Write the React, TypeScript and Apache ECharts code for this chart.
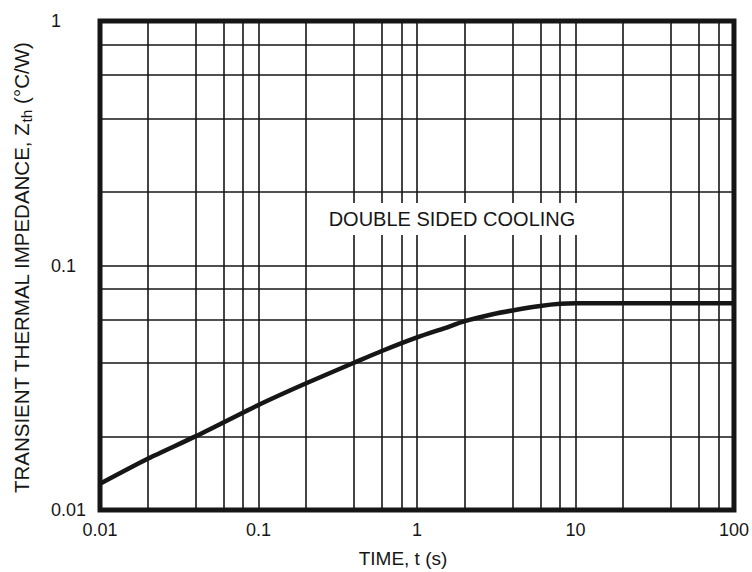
import React, { useEffect, useRef } from "react";
import * as echarts from "echarts";

// Curve: transient thermal impedance vs time
const timeValues = [0.01, 0.02, 0.04, 0.1, 0.2, 0.4, 0.6, 1, 1.5, 2, 3, 4, 6, 8, 10, 20, 50, 100];
const zthValues = [0.0128, 0.0162, 0.02, 0.0269, 0.033, 0.04, 0.0447, 0.0508, 0.0555, 0.0592, 0.0632, 0.0655, 0.0683, 0.0697, 0.07, 0.07, 0.07, 0.07];

// Minor grid lines
const xMinorGrid = [0.02, 0.04, 0.06, 0.08, 0.2, 0.4, 0.6, 0.8, 2, 4, 6, 8, 20, 40, 60, 80];
const yMinorGrid = [0.02, 0.04, 0.06, 0.08, 0.2, 0.4, 0.6, 0.8];

const xTickLabels = ["0.01", "0.1", "1", "10", "100"];
const yTickLabels = ["0.01", "0.1", "1"];

const FONT = "'Liberation Sans', Arial, sans-serif";
const INK = "#161616";

export default function App() {
  const ref = useRef<HTMLDivElement>(null);

  useEffect(() => {
    if (!ref.current) return;
    const chart = echarts.init(ref.current, undefined, { renderer: "svg" });
    const fmt = (labels: string[]) => (v: number) => {
      const found = labels.find((l) => Math.abs(parseFloat(l) - v) / v < 1e-6);
      return found ?? "";
    };
    const gridLineStyle = { color: INK, width: 1.6, type: "solid" as const };

    chart.setOption({
      animation: false,
      backgroundColor: "#ffffff",
      grid: {
        left: 100,
        top: 21,
        width: 635,
        height: 489,
        show: true,
        borderColor: INK,
        borderWidth: 5,
        backgroundColor: "transparent",
        z: 5,
      },
      xAxis: {
        type: "log",
        logBase: 10,
        min: 0.01,
        max: 100,
        axisLine: { show: false },
        axisTick: { show: false },
        splitLine: { show: true, lineStyle: gridLineStyle },
        axisLabel: {
          show: true,
          showMinLabel: true,
          showMaxLabel: true,
          margin: 11,
          fontFamily: FONT,
          fontSize: 18,
          color: INK,
          formatter: fmt(xTickLabels),
        },
      },
      yAxis: {
        type: "log",
        logBase: 10,
        min: 0.01,
        max: 1,
        axisLine: { show: false },
        axisTick: { show: false },
        splitLine: { show: true, lineStyle: gridLineStyle },
        axisLabel: {
          show: true,
          showMinLabel: true,
          showMaxLabel: true,
          align: "left",
          margin: 49,
          fontFamily: FONT,
          fontSize: 18,
          color: INK,
          formatter: fmt(yTickLabels),
        },
      },
      series: [
        {
          type: "line",
          data: [],
          silent: true,
          z: 1,
          markLine: {
            silent: true,
            symbol: "none",
            animation: false,
            label: { show: false },
            lineStyle: gridLineStyle,
            emphasis: { disabled: true },
            data: [
              ...xMinorGrid.map((v) => ({ xAxis: v })),
              ...yMinorGrid.map((v) => ({ yAxis: v })),
            ],
          },
        },
        {
          type: "line",
          name: "Zth",
          data: timeValues.map((t, i) => [t, zthValues[i]]),
          smooth: 0.25,
          showSymbol: false,
          symbol: "none",
          lineStyle: { color: INK, width: 4.5 },
          z: 10,
          silent: true,
        },
      ],
      graphic: [
        {
          type: "text",
          z: 100,
          x: 452,
          y: 219,
          style: {
            text: "DOUBLE SIDED COOLING",
            fontFamily: FONT,
            fontSize: 20,
            fill: INK,
            align: "center",
            verticalAlign: "middle",
            backgroundColor: "#ffffff",
            padding: [6, 8, 6, 8],
          },
        },
        {
          type: "text",
          z: 100,
          x: 403,
          y: 558,
          style: {
            text: "TIME, t (s)",
            fontFamily: FONT,
            fontSize: 19,
            fill: INK,
            align: "center",
            verticalAlign: "middle",
          },
        },
        {
          type: "text",
          z: 100,
          x: 21,
          y: 268,
          rotation: Math.PI / 2,
          style: {
            text: "TRANSIENT THERMAL IMPEDANCE, Z{sub|th} (°C/W)",
            fontFamily: FONT,
            fontSize: 20.5,
            fill: INK,
            align: "center",
            verticalAlign: "middle",
            rich: {
              sub: {
                fontFamily: FONT,
                fontSize: 15.5,
                fill: INK,
                padding: [11, 0, 0, 0],
              },
            },
          },
        },
      ],
    });
    return () => chart.dispose();
  }, []);

  return <div ref={ref} style={{ width: 752, height: 572, position: "absolute", left: 0, top: 0 }} />;
}
